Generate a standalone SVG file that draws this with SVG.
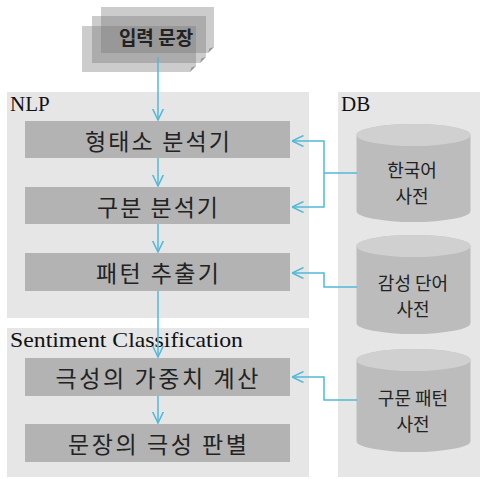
<svg xmlns="http://www.w3.org/2000/svg" width="485" height="479" viewBox="0 0 485 479">
<style>
.panel{fill:#e6e6e6;}
.box{fill:#b3b3b3;}
.lbl{font-family:"Liberation Serif","Times New Roman",serif;font-size:21px;fill:#111;}
.kt{font-family:"Noto Sans CJK KR","Noto Sans",sans-serif;fill:#222;text-anchor:middle;}
.bt{font-size:23px;}
.ct{font-size:18px;}
.cylb{fill:#bcbcbc;}
.cylt{fill:#d0d0d0;}
.inp{fill:#7a7a7a;fill-opacity:0.38;}
.fold{fill:#5a5a5a;fill-opacity:0.5;}
.conn{fill:none;stroke:#52b8d8;stroke-width:1.5;}
</style>
<defs>
<marker id="ah" viewBox="0 0 12 12" refX="11.5" refY="6" markerWidth="12" markerHeight="12" markerUnits="userSpaceOnUse" orient="auto">
<path d="M0,0.5 L11.5,6 L0,11.5" fill="none" stroke="#52b8d8" stroke-width="1.5"/>
</marker>
</defs>
<rect width="485" height="479" fill="#ffffff"/>

<g id="panel-nlp">
<rect class="panel" x="7" y="92" width="302" height="226"/>
<text class="lbl" x="10" y="111">NLP</text>
</g>
<g id="panel-sentiment">
<rect class="panel" x="7" y="328" width="302" height="149"/>
<text class="lbl" x="10" y="347" textLength="233" lengthAdjust="spacingAndGlyphs">Sentiment Classification</text>
</g>
<g id="panel-db">
<rect class="panel" x="338" y="92" width="142" height="385"/>
<text class="lbl" x="341" y="111">DB</text>
</g>

<g id="input">
<path class="inp" d="M101,7 H214 V47 L208,53 H101 Z"/>
<path class="fold" d="M214,47 L208,53 L209.5,48.5 Z"/>
<path class="inp" d="M92,16 H206 V57 L200,63 H92 Z"/>
<path class="fold" d="M206,57 L200,63 L201.5,58.5 Z"/>
<path class="inp" d="M82,26 H196 V66 L190,72 H82 Z"/>
<path class="fold" d="M196,66 L190,72 L191.5,67.5 Z"/>
<text class="kt" x="156" y="45" font-size="19" font-weight="bold" fill="#111">입력 문장</text>
</g>

<g id="n1"><rect class="box" x="25" y="121" width="265" height="37"/><text class="kt bt" x="157.5" y="150" textLength="145">형태소 분석기</text></g>
<g id="n2"><rect class="box" x="25" y="187" width="265" height="37"/><text class="kt bt" x="157.5" y="216" textLength="121">구분 분석기</text></g>
<g id="n3"><rect class="box" x="25" y="253" width="265" height="38"/><text class="kt bt" x="157.5" y="282" textLength="123">패턴 추출기</text></g>
<g id="n4"><rect class="box" x="25" y="358" width="265" height="38"/><text class="kt bt" x="157" y="387" textLength="203">극성의 가중치 계산</text></g>
<g id="n5"><rect class="box" x="25" y="424" width="265" height="38"/><text class="kt bt" x="157.5" y="453" textLength="179">문장의 극성 판별</text></g>

<g id="db1">
<path class="cylb" d="M356.5,135 A57,11 0 0 1 470.5,135 V211 A57,11 0 0 1 356.5,211 Z"/>
<ellipse class="cylt" cx="413.5" cy="135" rx="57" ry="11"/>
<text class="kt ct"><tspan x="412" y="177">한국어</tspan><tspan x="412" y="203">사전</tspan></text>
</g>
<g id="db2">
<path class="cylb" d="M356.5,246 A57,11 0 0 1 470.5,246 V323 A57,11 0 0 1 356.5,323 Z"/>
<ellipse class="cylt" cx="413.5" cy="246" rx="57" ry="11"/>
<text class="kt ct"><tspan x="413" y="290">감성 단어</tspan><tspan x="413" y="316">사전</tspan></text>
</g>
<g id="db3">
<path class="cylb" d="M356.5,360 A57,11 0 0 1 470.5,360 V441 A57,11 0 0 1 356.5,441 Z"/>
<ellipse class="cylt" cx="413.5" cy="360" rx="57" ry="11"/>
<text class="kt ct"><tspan x="413" y="405">구문 패턴</tspan><tspan x="413" y="431">사전</tspan></text>
</g>

<g id="connectors" class="conn">
<path d="M158,57 V120" marker-end="url(#ah)"/>
<path d="M158,158 V186" marker-end="url(#ah)"/>
<path d="M158,224 V252" marker-end="url(#ah)"/>
<path d="M158,291 V357" marker-end="url(#ah)"/>
<path d="M158,396 V423" marker-end="url(#ah)"/>
<path d="M324,173 V141 H292" marker-end="url(#ah)"/>
<path d="M324,173 V207 H292" marker-end="url(#ah)"/>
<path d="M357,173 H324"/>
<path d="M357,287 H324 V273 H292" marker-end="url(#ah)"/>
<path d="M357,400 H324 V377 H292" marker-end="url(#ah)"/>
</g>
</svg>
